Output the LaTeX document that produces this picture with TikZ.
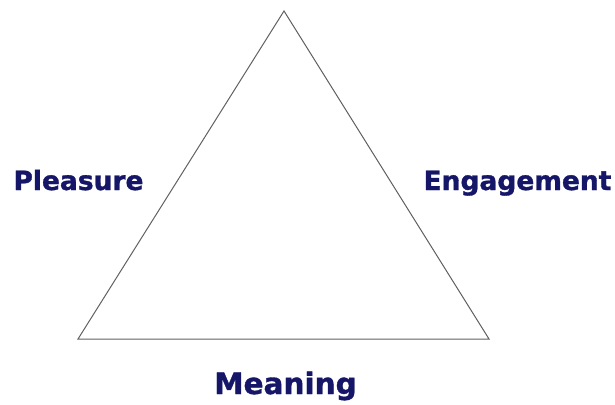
\documentclass[tikz,border=0pt]{standalone}
\usepackage{fontspec}
\setmainfont{DejaVu Sans}
\newfontfamily\lblfont{DejaVu Sans Bold}[FakeBold=1.2]
\definecolor{navy}{RGB}{22,22,104}
\begin{document}
\begin{tikzpicture}[x=1pt,y=-1pt,
  lbl/.style={font=\lblfont\fontsize{26.5}{30}\selectfont, text=navy, inner sep=0pt, anchor=base},
  tri/.style={draw=black!62, line width=1pt, line join=miter}]
\useasboundingbox[fill=white] (0,0) rectangle (615,404);
\coordinate (apex) at (284,11);
\coordinate (bl) at (78,339);
\coordinate (br) at (489,339);
\draw[tri] (apex) -- (br) -- (bl) -- cycle;
\node[lbl] (pleasure) at (78.5,190) {Pleasure};
\node[lbl] (engagement) at (517.5,190) {Engagement};
\node[lbl, font=\lblfont\fontsize{29.5}{33}\selectfont] (meaning) at (285.5,394) {Meaning};
\end{tikzpicture}
\end{document}
